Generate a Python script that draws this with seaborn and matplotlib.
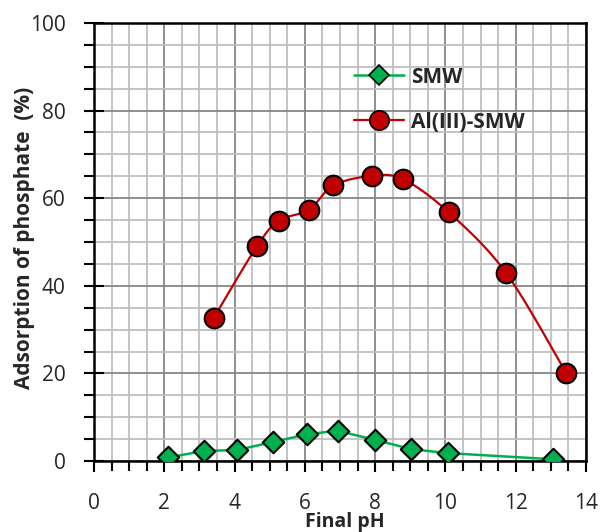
import numpy as np
import pandas as pd
import matplotlib
matplotlib.use("Agg")
import matplotlib.pyplot as plt
import seaborn as sns
from matplotlib.ticker import MultipleLocator
from matplotlib.lines import Line2D

# Data
smw_ph = [2.11, 3.13, 4.06, 5.08, 6.05, 6.93, 8.01, 9.03, 10.07, 13.05]
smw_ads = [0.8, 2.3, 2.5, 4.3, 6.1, 6.9, 4.8, 2.7, 1.8, 0.4]
al_ph = [3.41, 4.65, 5.27, 6.11, 6.81, 7.91, 8.80, 10.09, 11.72, 13.43]
al_ads = [32.7, 49.2, 54.9, 57.3, 62.9, 65.1, 64.3, 56.8, 43.0, 20.2]
x_ticks = [0, 2, 4, 6, 8, 10, 12, 14]
y_ticks = [0, 20, 40, 60, 80, 100]

sns.set_theme(style="white")
plt.rcParams['font.family'] = ['Open Sans', 'DejaVu Sans']

W, H = 600, 532
fig = plt.figure(figsize=(W/100, H/100), dpi=100)
ax = fig.add_axes([94/W, 1-461/H, (586-94)/W, (461-23)/H])

ax.set_xlim(0, 14)
ax.set_ylim(0, 100)
ax.xaxis.set_major_locator(MultipleLocator(2))
ax.xaxis.set_minor_locator(MultipleLocator(0.5))
ax.yaxis.set_major_locator(MultipleLocator(20))
ax.yaxis.set_minor_locator(MultipleLocator(5))
ax.grid(which='minor', color='#bfbfbf', lw=1.3, zorder=0)
ax.grid(which='major', color='#878787', lw=1.3, zorder=0)
ax.set_axisbelow(True)

# smooth curve (Catmull-Rom) for Al(III)-SMW in pixel-scaled space
def catmull(xs, ys, n=30):
    sx, sy = 35.14, 4.38
    P = np.column_stack([np.array(xs) * sx, np.array(ys) * sy])
    P = np.vstack([P[0], P, P[-1]])
    out = []
    for i in range(1, len(P) - 2):
        p0, p1, p2, p3 = P[i-1], P[i], P[i+1], P[i+2]
        t = np.linspace(0, 1, n)[:, None]
        c = 0.5 * ((2*p1) + (-p0 + p2)*t + (2*p0 - 5*p1 + 4*p2 - p3)*t**2 + (-p0 + 3*p1 - 3*p2 + p3)*t**3)
        out.append(c)
    C = np.vstack(out)
    return C[:, 0] / sx, C[:, 1] / sy

cx, cy = catmull(al_ph, al_ads)
ax.plot(cx, cy, color='#C00000', lw=1.6, zorder=3)

df_s = pd.DataFrame({'pH': smw_ph, 'ads': smw_ads})
df_a = pd.DataFrame({'pH': al_ph, 'ads': al_ads})
sns.lineplot(data=df_s, x='pH', y='ads', ax=ax, color='#00B050', lw=1.8, sort=False,
             estimator=None, zorder=3)
sns.scatterplot(data=df_s, x='pH', y='ads', ax=ax, marker='D', s=120, color='#00B050',
                edgecolor='black', linewidth=1.5, zorder=4)
sns.scatterplot(data=df_a, x='pH', y='ads', ax=ax, marker='o', s=200, color='#C00000',
                edgecolor='black', linewidth=1.5, zorder=4)

ax.set_xticks(x_ticks)
ax.set_yticks(y_ticks)
ax.set_xticklabels([str(v) for v in x_ticks])
ax.set_yticklabels([str(v) for v in y_ticks])
ax.tick_params(axis='x', which='major', direction='out', length=8, width=1.5, pad=15, labelsize=15, color='black')
ax.tick_params(axis='x', which='minor', direction='out', length=7, width=1.5, color='black')
ax.tick_params(axis='y', which='major', direction='inout', length=14, width=1.5, pad=13.5, labelsize=15, color='black')
ax.tick_params(axis='y', which='minor', direction='out', length=7, width=1.5, color='black')
ax.tick_params(bottom=True, left=True, which='both')

for s in ax.spines.values():
    s.set_color('black')
    s.set_linewidth(1.8)

ax.set_xlabel('')
ax.set_ylabel('')
fig.text(345/W, 1-527/H, 'Final pH', fontsize=14, fontweight='bold', ha='center', va='baseline')
fig.text(25/W, 1-238/H, 'Adsorption of phosphate  (%)', fontsize=15, fontweight='bold',
         ha='center', va='center', rotation=90)

h1 = Line2D([], [], color='#00B050', lw=1.8, marker='D', ms=10, mfc='#00B050', mec='black', mew=1.2)
h2 = Line2D([], [], color='#C00000', lw=1.6, marker='o', ms=14, mfc='#C00000', mec='black', mew=1.2)
ax.legend([h1, h2], ['SMW', 'Al(III)-SMW'], loc='upper left',
          bbox_to_anchor=((335-94)/492, 1-(48-23)/438),
          frameon=False, handlelength=2.4, labelspacing=1.15, handletextpad=0.35,
          prop={'weight': 'bold', 'size': 15})

fig.savefig('out.png', dpi=100)
